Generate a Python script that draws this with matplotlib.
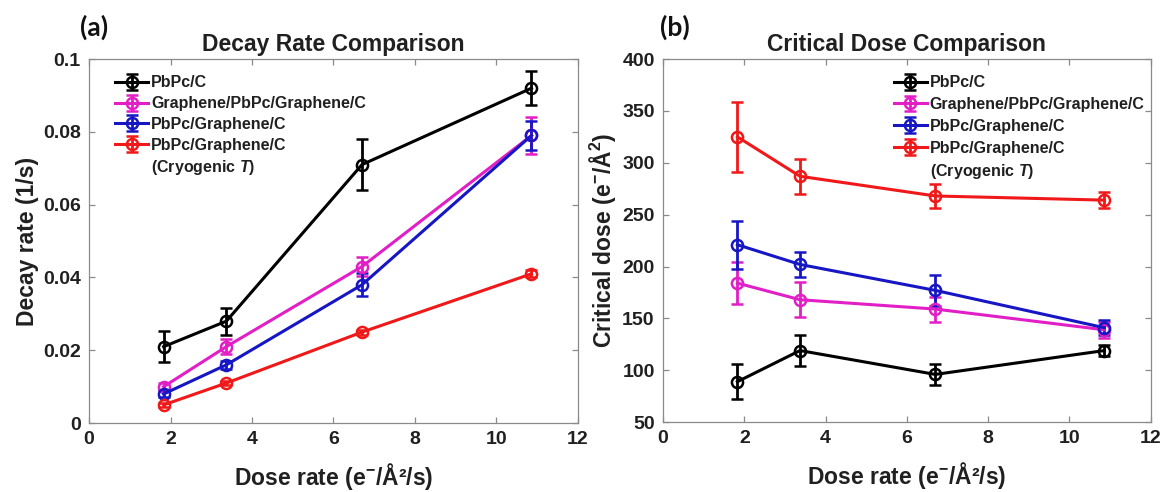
import matplotlib
matplotlib.use('Agg')
import matplotlib.pyplot as plt

plt.rcParams['font.family'] = ['Liberation Sans', 'DejaVu Sans']
plt.rcParams['font.weight'] = 'bold'
plt.rcParams['axes.labelweight'] = 'bold'
plt.rcParams['axes.titleweight'] = 'bold'
plt.rcParams['mathtext.fontset'] = 'custom'
plt.rcParams['mathtext.rm'] = 'Liberation Sans:bold'
plt.rcParams['mathtext.bf'] = 'Liberation Sans:bold'
plt.rcParams['mathtext.it'] = 'Liberation Sans:italic:bold'

# dose rate (x) for every series
dose_rate = [1.83, 3.37, 6.7, 10.86]

labels = ['PbPc/C', 'Graphene/PbPc/Graphene/C', 'PbPc/Graphene/C',
          'PbPc/Graphene/C']
cryo_note = '(Cryogenic $T$)'
colors = ['#000000', '#e21ec6', '#1616c4', '#f01818']

# panel (a): decay rate, 1/s
decay_pbpc = [0.021, 0.028, 0.071, 0.092]
decay_pbpc_err = [0.0042, 0.0037, 0.0071, 0.0046]
decay_gpg = [0.010, 0.021, 0.043, 0.079]
decay_gpg_err = [0.0010, 0.0020, 0.0027, 0.0051]
decay_pg = [0.008, 0.016, 0.038, 0.079]
decay_pg_err = [0.0009, 0.0010, 0.0032, 0.0040]
decay_cryo = [0.005, 0.011, 0.025, 0.041]
decay_cryo_err = [0.0005, 0.0006, 0.0007, 0.0010]

# panel (b): critical dose, e/A^2
dose_pbpc = [89, 119, 96, 119]
dose_pbpc_err = [17, 15, 10, 5]
dose_gpg = [184, 168, 159, 139]
dose_gpg_err = [20, 17, 12, 8]
dose_pg = [221, 202, 177, 141]
dose_pg_err = [23, 12, 15, 7]
dose_cryo = [325, 287, 268, 264]
dose_cryo_err = [34, 17, 12, 8]

x_ticks = [0, 2, 4, 6, 8, 10, 12]
decay_ticks = [0, 0.02, 0.04, 0.06, 0.08, 0.1]
decay_ticklabels = ['0', '0.02', '0.04', '0.06', '0.08', '0.1']
dose_ticks = [50, 100, 150, 200, 250, 300, 350, 400]

spine_col = '#8a8a8a'
text_col = '#202020'


def draw_panel(ax, series, errs, title, ylabel, yticks, yticklabels, ylim,
               leg_anchor, leg_spacing):
    handles = []
    for y, e, lab, c in zip(series, errs, labels, colors):
        h = ax.errorbar(dose_rate, y, yerr=e, color=c, lw=2.2, marker='o', ms=8,
                        mfc='none', mew=1.8, elinewidth=2.0, capsize=4, capthick=2.0,
                        label=lab)
        handles.append(h)
    # second line of the last legend entry, without its own handle
    dummy, = ax.plot([], [], color='none', label=cryo_note)
    handles.append(dummy)

    ax.set_xlim(0, 12)
    ax.set_ylim(*ylim)
    ax.set_xticks(x_ticks)
    ax.set_yticks(yticks)
    ax.set_yticklabels(yticklabels)
    ax.tick_params(direction='in', top=True, right=True, length=4.5, width=0.9,
                   color=spine_col, labelcolor=text_col, labelsize=14, pad=6)
    for s in ax.spines.values():
        s.set_color(spine_col)
        s.set_linewidth(0.9)

    ax.set_title(title, fontsize=16.5, fontweight='bold', color=text_col, pad=6)
    ax.set_xlabel('Dose rate (e$^{-}$/Å²/s)', fontsize=16.5, fontweight='bold',
                  color=text_col, labelpad=9)
    ax.set_ylabel(ylabel, fontsize=16.5, fontweight='bold', color=text_col,
                  labelpad=3)

    leg = ax.legend(handles=handles, labels=labels + [cryo_note],
                    loc='upper left', bbox_to_anchor=leg_anchor, frameon=False,
                    fontsize=11.5, handlelength=2.1, handletextpad=0.15,
                    labelspacing=leg_spacing, borderpad=0, borderaxespad=0)
    for t in leg.get_texts():
        t.set_color(text_col)
        t.set_fontweight('bold')


fig = plt.figure(figsize=(11.64, 4.92), dpi=100)
ax1 = fig.add_axes([0.0765, 0.140, 0.420, 0.740])
ax2 = fig.add_axes([0.5696, 0.142, 0.419, 0.738])

draw_panel(ax1,
           [decay_pbpc, decay_gpg, decay_pg, decay_cryo],
           [decay_pbpc_err, decay_gpg_err, decay_pg_err, decay_cryo_err],
           'Decay Rate Comparison', 'Decay rate (1/s)',
           decay_ticks, decay_ticklabels, (0, 0.1), (0.053, 0.955), 0.36)

draw_panel(ax2,
           [dose_pbpc, dose_gpg, dose_pg, dose_cryo],
           [dose_pbpc_err, dose_gpg_err, dose_pg_err, dose_cryo_err],
           'Critical Dose Comparison', 'Critical dose (e$^{-}$/Å$^{2}$)',
           dose_ticks, [str(v) for v in dose_ticks], (50, 400), (0.473, 0.955), 0.42)

fig.text(0.069, 0.945, '(a)', family=['Lato', 'DejaVu Sans'], fontweight='bold',
         fontsize=19, color='#111111', va='center')
fig.text(0.567, 0.945, '(b)', family=['Lato', 'DejaVu Sans'], fontweight='bold',
         fontsize=19, color='#111111', va='center')

fig.savefig('out.png', dpi=100)
